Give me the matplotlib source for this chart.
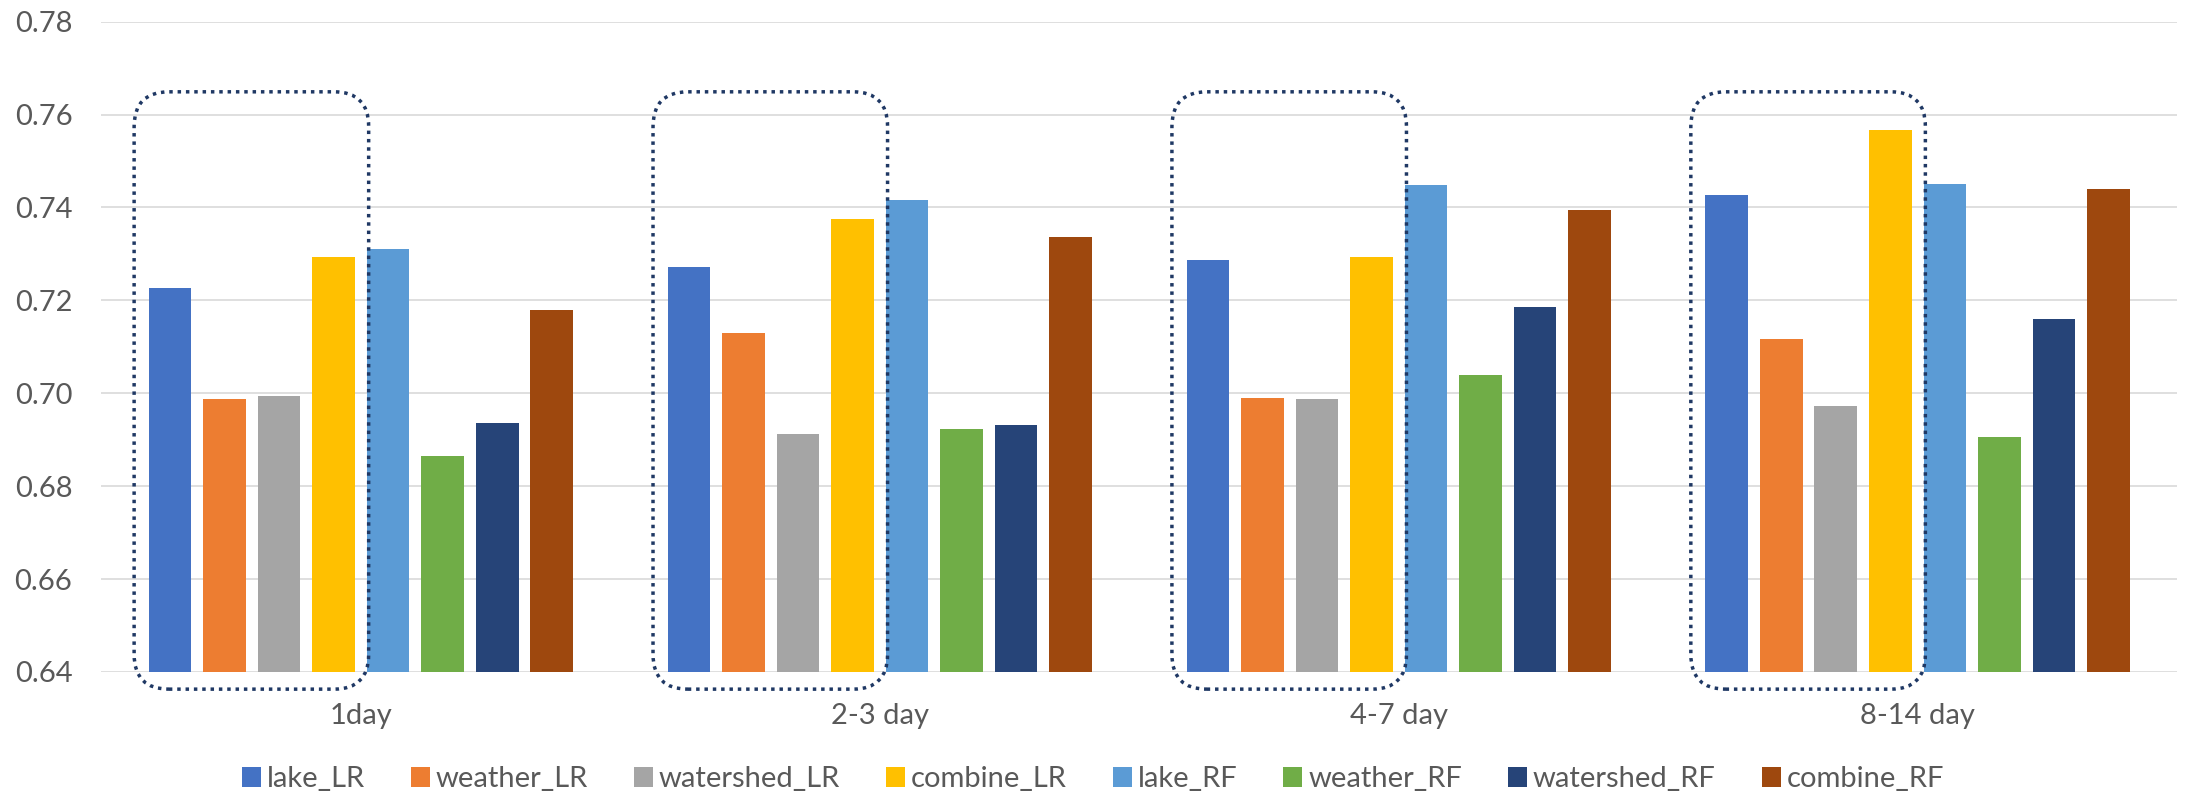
import numpy as np
import matplotlib.pyplot as plt
from matplotlib.patches import FancyBboxPatch

plt.rcParams['font.family'] = ['Lato', 'DejaVu Sans']

# horizons and series
categories = ['1day', '2-3 day', '4-7 day', '8-14 day']
series = ['lake_LR', 'weather_LR', 'watershed_LR', 'combine_LR',
          'lake_RF', 'weather_RF', 'watershed_RF', 'combine_RF']

lake_LR = [0.7226, 0.7272, 0.7287, 0.7427]
weather_LR = [0.6987, 0.7130, 0.6989, 0.7116]
watershed_LR = [0.6994, 0.6913, 0.6988, 0.6972]
combine_LR = [0.7294, 0.7375, 0.7294, 0.7567]
lake_RF = [0.7311, 0.7417, 0.7448, 0.7450]
weather_RF = [0.6865, 0.6922, 0.7040, 0.6905]
watershed_RF = [0.6935, 0.6932, 0.7185, 0.7160]
combine_RF = [0.7180, 0.7337, 0.7394, 0.7440]

values = [lake_LR, weather_LR, watershed_LR, combine_LR,
          lake_RF, weather_RF, watershed_RF, combine_RF]

colors = ['#4472C4', '#ED7D31', '#A5A5A5', '#FFC000',
          '#5B9BD5', '#70AD47', '#264478', '#9E480E']

text_color = '#595959'

fig = plt.figure(figsize=(21.86, 7.94), dpi=100)
ax = fig.add_axes([0.0464, 0.1537, 0.9495, 0.8190])

x = np.arange(len(categories))
pitch = 0.1051
width = 0.0821

for i, (name, vals, c) in enumerate(zip(series, values, colors)):
    ax.bar(x + (i - 3.5) * pitch, vals, width=width, color=c, label=name, zorder=2)

# dotted rounded boxes around the LR bars
for xi in x:
    box = FancyBboxPatch((xi - 0.437, 0.6363), 0.452, 0.7649 - 0.6363,
                         boxstyle='round,pad=0,rounding_size=0.067',
                         mutation_aspect=0.1118,
                         fill=False, edgecolor='#1F3864', linewidth=2.5,
                         linestyle=(0, (1, 1.4)), zorder=3, clip_on=False)
    ax.add_patch(box)

ax.set_xlim(-0.5, 3.5)
ax.set_ylim(0.64, 0.78)
ax.set_yticks(np.arange(0.64, 0.781, 0.02))
ax.set_yticklabels([f'{v:.2f}' for v in np.arange(0.64, 0.781, 0.02)])
ax.set_xticks(x)
ax.set_xticklabels(categories)

ax.grid(axis='y', color='#D9D9D9', linewidth=1.2, zorder=0)
ax.set_axisbelow(True)
for s in ax.spines.values():
    s.set_visible(False)

ax.tick_params(axis='y', length=0, pad=21, labelsize=21, labelcolor=text_color)
ax.tick_params(axis='x', length=0, pad=22, labelsize=21, labelcolor=text_color)

fig.legend(loc='center', bbox_to_anchor=(0.5, 0.0183), ncol=8, frameon=False,
           fontsize=21, labelcolor=text_color, handlelength=0.65, handleheight=0.65,
           handletextpad=0.2, columnspacing=1.58, borderpad=0)

fig.savefig('out.png', dpi=100)
